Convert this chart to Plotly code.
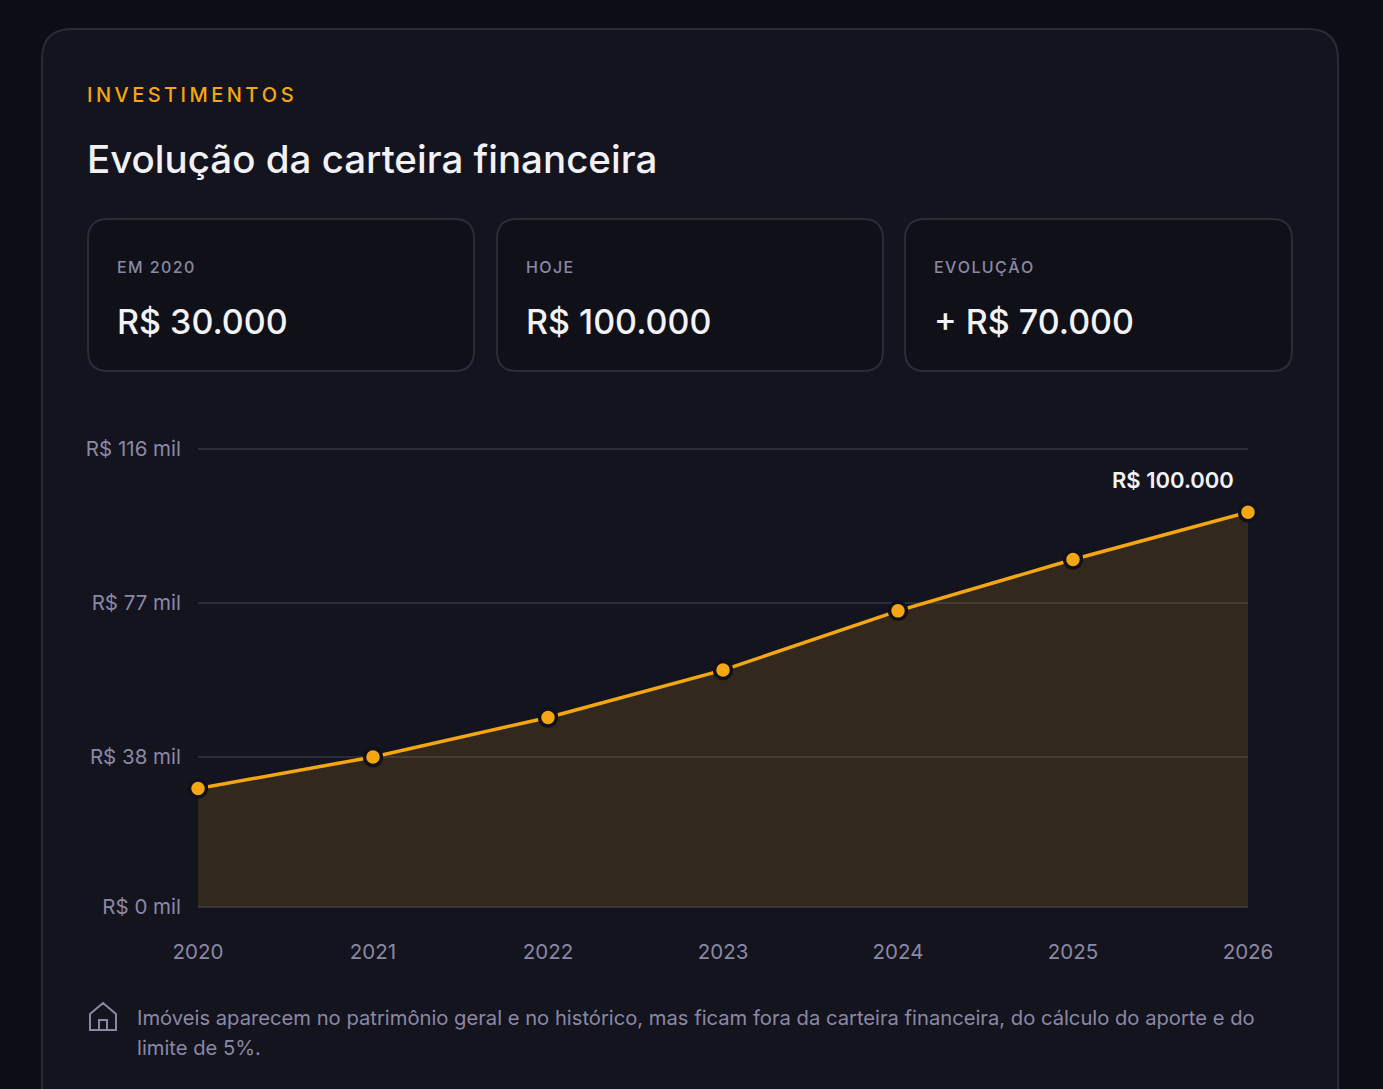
import plotly.graph_objects as go

# carteira financeira, valores em mil R$
anos = [2020, 2021, 2022, 2023, 2024, 2025, 2026]
valores = [30, 38, 48, 60, 75, 88, 100]

y_ticks = [0, 38, 77, 116]
y_tick_labels = ["R$ 0 mil", "R$ 38 mil", "R$ 77 mil", "R$ 116 mil"]

cards = ["EM 2020", "HOJE", "EVOLUÇÃO"]

nota = ["Imóveis aparecem no patrimônio geral e no histórico, mas ficam fora da carteira financeira, "
        "do cálculo do aporte e do",
        "limite de 5%."]

W, H = 1383, 1089
L, R, T, B = 198, 1248, 447, 909   # plot area in pixels (y range padded by 0.5)

ORANGE = "#f5a712"
MUTED = "#8b88a5"
FONT = "Inter, Roboto, sans-serif"


def px(x):
    return (x - L) / (R - L)


def py(y):
    return (B - y) / (B - T)


def brl(v):
    return "R$ " + f"{v * 1000:,.0f}".replace(",", ".")


def spaced(s, sep):
    return sep.join(s)


def rrect(x0, y0, x1, y1, r):
    rx, ry = r / (R - L), r / (B - T)
    a, b, c, d = px(x0), py(y0), px(x1), py(y1)
    return (f"M {a + rx},{b} L {c - rx},{b} Q {c},{b} {c},{b - ry} "
            f"L {c},{d + ry} Q {c},{d} {c - rx},{d} L {a + rx},{d} "
            f"Q {a},{d} {a},{d + ry} L {a},{b - ry} Q {a},{b} {a + rx},{b} Z")


fig = go.Figure()

fig.add_trace(go.Scatter(
    x=anos, y=valores, mode="lines+markers",
    line=dict(color=ORANGE, width=3.5),
    marker=dict(size=17, color=ORANGE, line=dict(color="#0f1018", width=3.5)),
    fill="tozeroy", fillcolor="rgba(245,160,30,0.14)",
    cliponaxis=False, hoverinfo="skip", showlegend=False,
))

shapes = [
    # outer panel
    dict(type="path", path=rrect(42, 29, 1338, 1140, 30), xref="paper", yref="paper",
         fillcolor="#13141e", line=dict(color="#2a2b37", width=2), layer="below"),
]
card_x = [(88, 474), (497, 883), (905, 1292)]
for x0, x1 in card_x:
    shapes.append(dict(type="path", path=rrect(x0, 219, x1, 371, 20), xref="paper", yref="paper",
                       fillcolor="#0f1018", line=dict(color="#2b2c38", width=2), layer="below"))

# house icon
hx, hy = 90, 1003
icon = (f"M {px(hx)},{py(hy + 11)} L {px(hx + 13)},{py(hy)} L {px(hx + 26)},{py(hy + 11)} "
        f"L {px(hx + 26)},{py(hy + 27)} L {px(hx)},{py(hy + 27)} Z "
        f"M {px(hx + 9)},{py(hy + 27)} L {px(hx + 9)},{py(hy + 17)} L {px(hx + 17)},{py(hy + 17)} "
        f"L {px(hx + 17)},{py(hy + 27)}")
shapes.append(dict(type="path", path=icon, xref="paper", yref="paper",
                   line=dict(color=MUTED, width=2)))

card_values = [brl(valores[0]), brl(valores[-1]), "+ " + brl(valores[-1] - valores[0])]

annotations = [
    dict(x=px(85), y=py(95), text=spaced("INVESTIMENTOS", "\u2009"),
         font=dict(size=20, color=ORANGE, family=FONT, weight=500)),
    dict(x=px(85), y=py(159), text="Evolução da carteira financeira",
         font=dict(size=38.5, color="#f1f1f6", family=FONT, weight=500)),
    dict(x=px(135), y=py(1017), text=nota[0], font=dict(size=20.2, color=MUTED, family=FONT)),
    dict(x=px(135), y=py(1047), text=nota[1], font=dict(size=20.2, color=MUTED, family=FONT)),
]
for (x0, _), label, val in zip(card_x, cards, card_values):
    annotations.append(dict(x=px(x0 + 27), y=py(267), text=spaced(label, "\u200a"),
                            font=dict(size=16, color=MUTED, family=FONT, weight=500)))
    annotations.append(dict(x=px(x0 + 27), y=py(322), text=val,
                            font=dict(size=34, color="#f3f3f7", family=FONT, weight=500)))
for a in annotations:
    a.update(xref="paper", yref="paper", xanchor="left", yanchor="middle", showarrow=False)

annotations.append(dict(x=anos[-1], y=valores[-1], xref="x", yref="y", text=brl(valores[-1]),
                        xanchor="right", yanchor="middle", xshift=-12, yshift=32, showarrow=False,
                        font=dict(size=22, color="#f3f3f7", family=FONT, weight=600)))

fig.update_layout(
    width=W, height=H,
    margin=dict(l=L, r=W - R, t=T, b=H - B, pad=0),
    paper_bgcolor="#0c0d15", plot_bgcolor="rgba(0,0,0,0)",
    font=dict(family=FONT, color=MUTED),
    shapes=shapes, annotations=annotations,
    xaxis=dict(range=[anos[0], anos[-1]], tickvals=anos, ticktext=[str(a) for a in anos],
               showgrid=False, zeroline=False, showline=False,
               tickfont=dict(size=20.5, color=MUTED), ticklabelstandoff=28, fixedrange=True),
    yaxis=dict(range=[-0.5, 116.5], tickvals=y_ticks, ticktext=y_tick_labels,
               showgrid=True, gridcolor="#2b2c38", gridwidth=2, zeroline=False, showline=False,
               tickfont=dict(size=20.5, color=MUTED), ticklabelstandoff=16, fixedrange=True),
    hovermode=False,
)

fig.write_html("out.html", config={"displayModeBar": False},
               post_script="document.body.style.margin='0';")
